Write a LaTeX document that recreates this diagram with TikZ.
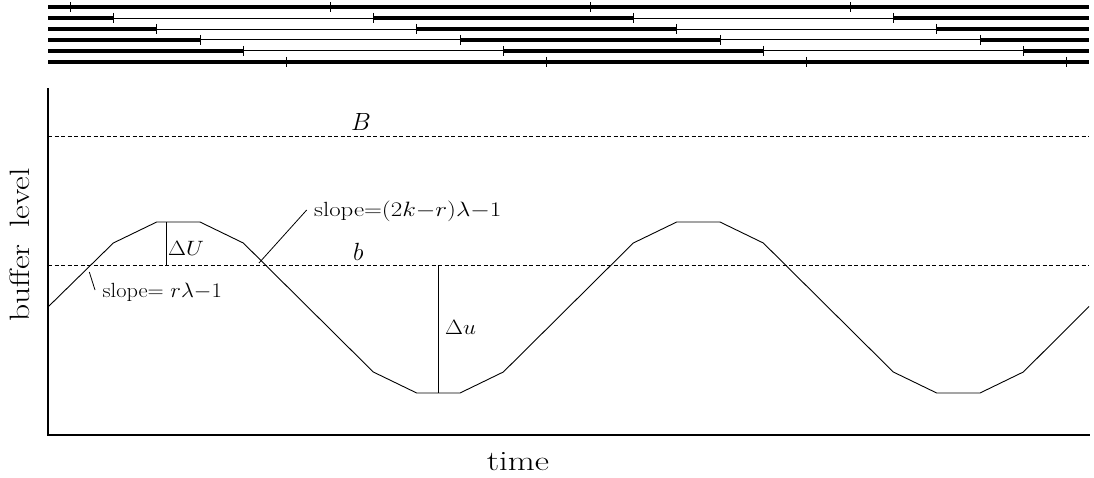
\documentclass[tikz,border=0pt]{standalone}
\usepackage{graphicx}
\begin{document}
\begin{tikzpicture}[x=1pt,y=-1pt,
  thickbar/.style={line width=4.2pt},
  thinbar/.style={line width=0.8pt},
  tickmark/.style={line width=0.9pt},
  curveline/.style={line width=0.9pt, line join=miter},
  levelline/.style={line width=0.7pt, dash pattern=on 4pt off 2.5pt},
  axisline/.style={line width=2.2pt},
  leader/.style={line width=0.8pt},
  lbl/.style={inner sep=0pt, font=\fontsize{20.5}{24}\selectfont},
  mathlbl/.style={inner sep=0pt, font=\fontsize{21.5}{25}\selectfont},
  levellbl/.style={inner sep=0pt, font=\fontsize{23.5}{27}\selectfont},
  biglbl/.style={inner sep=0pt, font=\fontsize{28}{32}\selectfont},
]
\useasboundingbox (0,0) rectangle (1094,477);

% top bars: lines 1 and 6 always thick with ticks
\foreach \i in {0,5}{
  \pgfmathsetmacro\yy{7+10.95*\i}
  \pgfmathsetmacro\xa{70+43.3333*\i}
  \draw[thickbar] (48,\yy) -- (1089,\yy);
  \foreach \k in {0,...,3}{
    \pgfmathsetmacro\xt{\xa+260*\k}
    \draw[tickmark] (\xt,\yy-5) -- (\xt,\yy+5);
  }
}
% top bars: lines 2..5 alternate thick / thin
\foreach \i in {1,...,4}{
  \pgfmathsetmacro\yy{7+10.95*\i}
  \pgfmathsetmacro\xa{70+43.3333*\i}
  \pgfmathsetmacro\xb{\xa+260}
  \pgfmathsetmacro\xc{\xa+520}
  \pgfmathsetmacro\xd{\xa+780}
  \draw[thickbar] (48,\yy) -- (\xa,\yy);
  \draw[thinbar] (\xa,\yy) -- (\xb,\yy);
  \draw[thickbar] (\xb,\yy) -- (\xc,\yy);
  \draw[thinbar] (\xc,\yy) -- (\xd,\yy);
  \draw[thickbar] (\xd,\yy) -- (1089,\yy);
  \foreach \xt in {\xa,\xb,\xc,\xd}{
    \draw[tickmark] (\xt,\yy-5) -- (\xt,\yy+5);
  }
}

% axes
\coordinate (O) at (48,435);
\coordinate (Ytop) at (48,88);
\coordinate (Xend) at (1090,435);
\draw[axisline] (Ytop) -- (O) -- (Xend);

% levels
\coordinate (BL) at (48,136);
\coordinate (BR) at (1089,136);
\coordinate (bL) at (48,265);
\coordinate (bR) at (1089,265);
\draw[levelline] (BL) -- (BR);
\draw[levelline] (bL) -- (bR);

% buffer curve
\draw[curveline] (48,307) -- (113.3,243) -- (156.7,222) -- (200,222) -- (243.3,243)
  -- (373.3,372) -- (416.7,393) -- (460,393) -- (503.3,372)
  -- (633.3,243) -- (676.7,222) -- (720,222) -- (763.3,243)
  -- (893.3,372) -- (936.7,393) -- (980,393) -- (1023.3,372) -- (1089,306.5);

% Delta markers
\coordinate (dUa) at (166.7,222);
\coordinate (dUb) at (166.7,265);
\coordinate (dua) at (438.3,265);
\coordinate (dub) at (438.3,393);
\draw[leader] (dUa) -- (dUb);
\draw[leader] (dua) -- (dub);

% leaders for slope labels
\coordinate (s1a) at (89.3,272);
\coordinate (s1b) at (95,290);
\coordinate (s2a) at (259,263);
\coordinate (s2b) at (306.7,210);
\draw[leader] (s1a) -- (s1b);
\draw[leader] (s2a) -- (s2b);

% labels
\node[levellbl, anchor=base west] (Blab) at (351,130.5) {$B$};
\node[levellbl, anchor=base west] (blab) at (353,260) {$b$};
\node[mathlbl, anchor=base west] (dUlab) at (168,255.5) {\scalebox{1.12}[1]{$\Delta U$}};
\node[mathlbl, anchor=base west] (dulab) at (445,334.5) {\scalebox{1.12}[1]{$\Delta u$}};
\node[lbl, anchor=base west] (s1lab) at (102.5,297) {\scalebox{1.09}[1]{slope= $r\lambda{-}1$}};
\node[lbl, anchor=base west] (s2lab) at (314,216.7) {\scalebox{1.21}[1]{slope=$(2k{-}r)\lambda{-}1$}};
\node[biglbl, anchor=base] (xlab) at (518,470) {\scalebox{1.25}[1]{time}};
\node[biglbl, rotate=90, anchor=base] (ylab) at (29,245) {\scalebox{1.2}[1]{buffer\hspace{0.5em}level}};
\end{tikzpicture}
\end{document}
